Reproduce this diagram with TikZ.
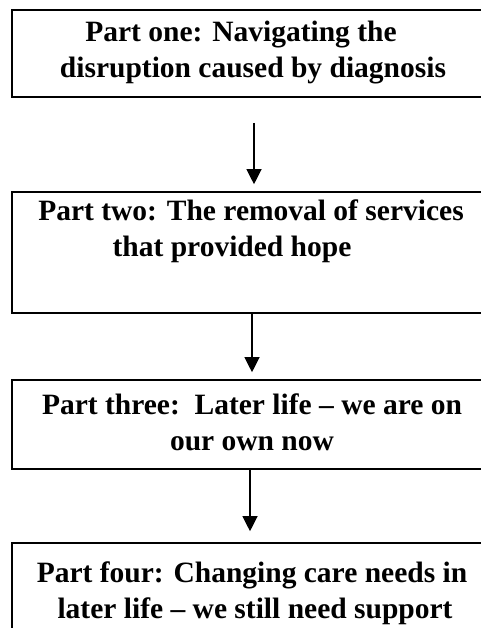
\documentclass[tikz,border=0pt]{standalone}
\usepackage{fontspec}
\setmainfont{Liberation Serif}
\usetikzlibrary{arrows.meta}
\begin{document}
\begin{tikzpicture}[x=1pt,y=-1pt,
  box/.style={draw, line width=1.6pt, minimum width=480pt, inner sep=0pt},
  txt/.style={anchor=base, inner sep=0pt, font=\fontsize{29.5}{36}\selectfont\bfseries},
  arr/.style={line width=1.2pt, -{Triangle[width=15pt,length=15pt]}}]
\useasboundingbox (0,0) rectangle (480,628);
% boxes
\node[box, minimum height=87pt]  (b1) at (252,53.5) {};
\node[box, minimum height=121pt] (b2) at (252,252.5) {};
\node[box, minimum height=89pt]  (b3) at (252,424.5) {};
\node[box, minimum height=117pt] (b4) at (252,601.5) {};
% texts
\node[txt] (t1a) at (241,42) {Part one: Navigating the};
\node[txt] (t1b) at (253,78) {disruption caused by diagnosis};
\node[txt] (t2a) at (251,220) {Part two: The removal of services};
\node[txt] (t2b) at (232,256) {that provided hope};
\node[txt] (t3a) at (252,414) {Part three:\ \ Later life – we are on};
\node[txt] (t3b) at (252,450) {our own now};
\node[txt] (t4a) at (252,582) {Part four: Changing care needs in};
\node[txt] (t4b) at (255,618) {later life – we still need support};
% arrows
\coordinate (a1s) at (254,123);
\coordinate (x2) at (252,0);
\coordinate (x3) at (250,0);
\draw[arr, shorten >=7pt] (a1s) -- (b2.north -| a1s);
\draw[arr, shorten >=7pt] (b2.south -| x2) -- (b3.north -| x2);
\draw[arr, shorten >=11pt] (b3.south -| x3) -- (b4.north -| x3);
\end{tikzpicture}
\end{document}
